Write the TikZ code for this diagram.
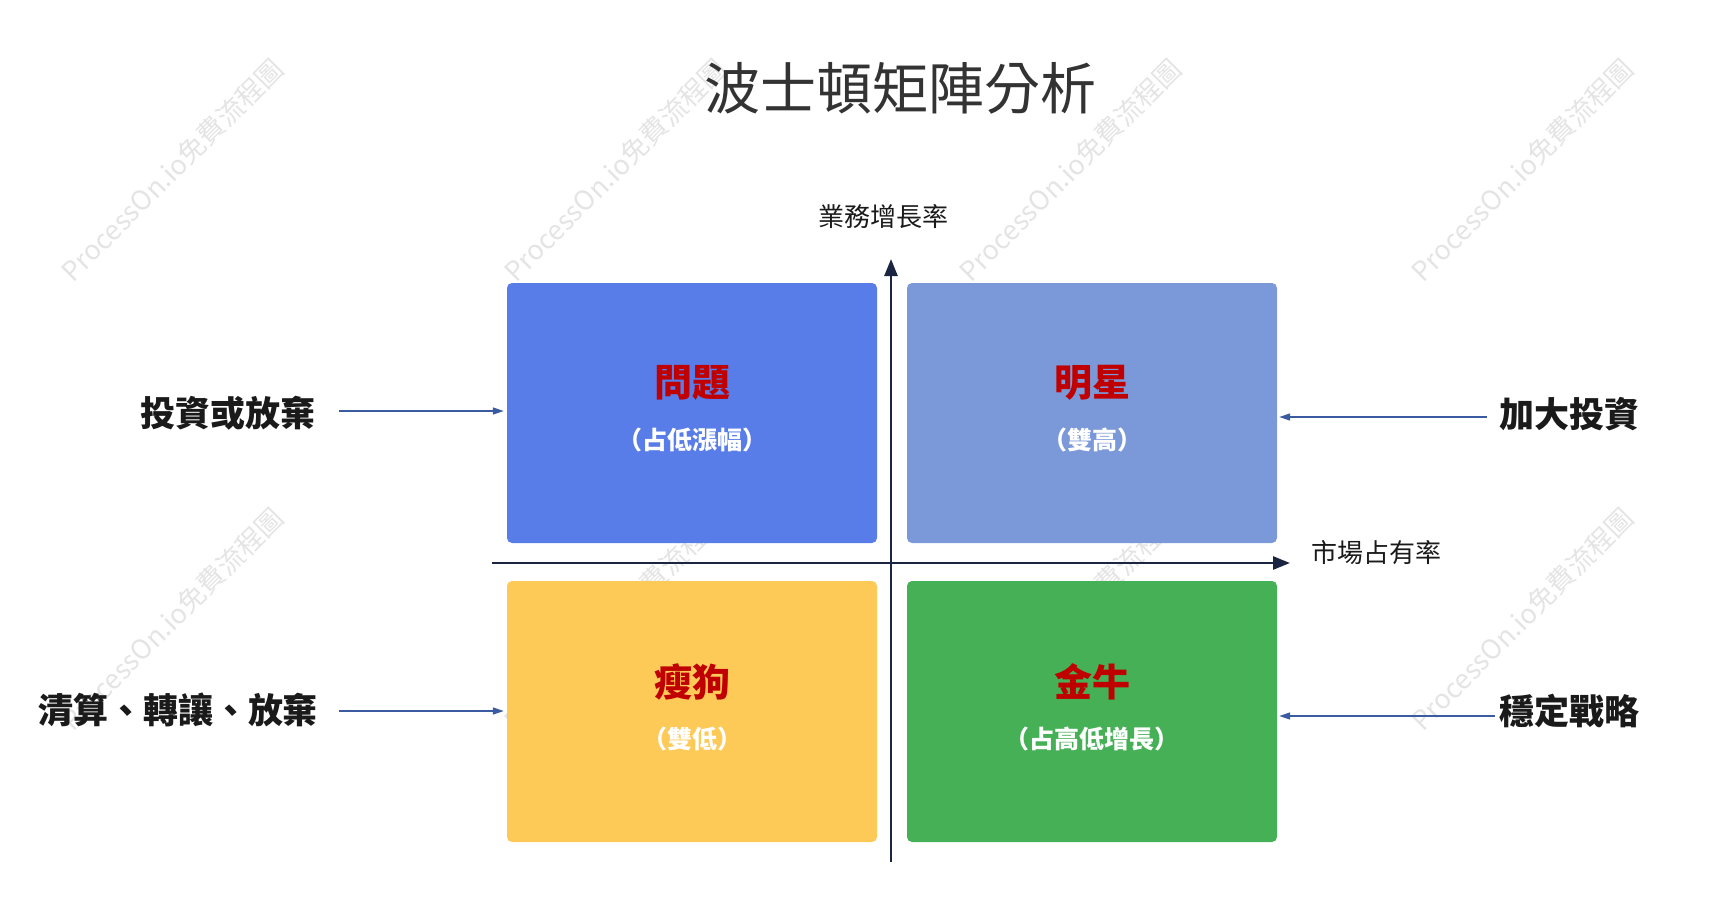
\documentclass[tikz,border=0pt]{standalone}
\usepackage{fontspec}
\setmainfont{Noto Sans CJK TC}
\usetikzlibrary{arrows.meta}
\definecolor{qblue}{HTML}{587DE9}
\definecolor{qlblue}{HTML}{7B99D8}
\definecolor{qyellow}{HTML}{FDCA58}
\definecolor{qgreen}{HTML}{45B055}
\definecolor{qred}{HTML}{C00000}
\definecolor{axiscol}{HTML}{1B2440}
\definecolor{arrcol}{HTML}{3B5BA0}
\definecolor{wmcol}{HTML}{E4E4E4}
\definecolor{txtdark}{HTML}{1A1A1A}
\tikzset{
  quad/.style={rounded corners=5pt, minimum width=370pt, minimum height=260pt, inner sep=0pt},
  qtitle/.style={text=qred, font=\fontsize{38}{40}\selectfont\bfseries},
  qsub/.style={text=white, font=\fontsize{25}{28}\selectfont\bfseries},
  sidelab/.style={text=txtdark, font=\fontsize{35}{40}\selectfont\bfseries},
  axislab/.style={text=txtdark, font=\fontsize{26}{30}\selectfont},
  axisline/.style={draw=axiscol, line width=2.6pt, -{Triangle[length=17pt,width=13pt]}},
  arr/.style={draw=arrcol, line width=1.3pt, -{Triangle[length=11pt,width=7pt]}},
  wm/.style={text=wmcol, rotate=45, font=\fontsize{27}{30}\selectfont}
}
\begin{document}
\begin{tikzpicture}[x=1pt,y=-1pt]
\useasboundingbox (0,0) rectangle (1717,900);
% watermarks
\foreach \x/\y [count=\i] in {172/170,615/170,1070/170,1522/170,172/619,615/619,1070/619,1522/619}
  \node[wm] (wm\i) at (\x,\y) {ProcessOn.io免費流程圖};
% title
\node[text=black!80, font=\fontsize{56}{60}\selectfont] (title) at (900,88) {波士頓矩陣分析};
% quadrants
\node[quad, fill=qblue] (q1) at (692,413) {};
\node[quad, fill=qlblue] (q2) at (1092,413) {};
\node[quad, fill=qyellow, minimum height=261pt] (q3) at (692,711.5) {};
\node[quad, fill=qgreen, minimum height=261pt] (q4) at (1092,711.5) {};
\node[qtitle] (t1) at ([yshift=30pt]q1.center) {問題};
\node[qsub] (s1) at ([yshift=-27pt]q1.center) {（占低漲幅）};
\node[qtitle] (t2) at ([yshift=30pt]q2.center) {明星};
\node[qsub] (s2) at ([yshift=-27pt]q2.center) {（雙高）};
\node[qtitle] (t3) at ([yshift=30pt]q3.center) {瘦狗};
\node[qsub] (s3) at ([yshift=-27pt]q3.center) {（雙低）};
\node[qtitle] (t4) at ([yshift=30pt]q4.center) {金牛};
\node[qsub] (s4) at ([yshift=-27pt]q4.center) {（占高低增長）};
% axes
\coordinate (ybot) at (891,862);
\coordinate (ytop) at (891,259);
\coordinate (xl) at (492,563);
\coordinate (xr) at (1290,563);
\draw[axisline] (ybot) -- (ytop);
\draw[axisline] (xl) -- (xr);
\node[axislab] (ylab) at (883,217) {業務增長率};
\node[axislab, anchor=west] (xlab) at (1308,553) {市場占有率};
% side labels
\node[sidelab] (l1) at (228,413) {投資或放棄};
\node[sidelab] (l3) at (178,710) {清算、轉讓、放棄};
\node[sidelab] (l2) at (1569,414) {加大投資};
\node[sidelab] (l4) at (1569,711) {穩定戰略};
\coordinate (a1s) at (339,411);
\coordinate (a3s) at (339,711);
\coordinate (a2s) at (1487,417);
\coordinate (a4s) at (1495,716);
\draw[arr] (a1s) -- ([xshift=-3pt]q1.west |- a1s);
\draw[arr] (a3s) -- ([xshift=-3pt]q3.west |- a3s);
\draw[arr] (a2s) -- ([xshift=2pt]q2.east |- a2s);
\draw[arr] (a4s) -- ([xshift=2pt]q4.east |- a4s);
\end{tikzpicture}
\end{document}
